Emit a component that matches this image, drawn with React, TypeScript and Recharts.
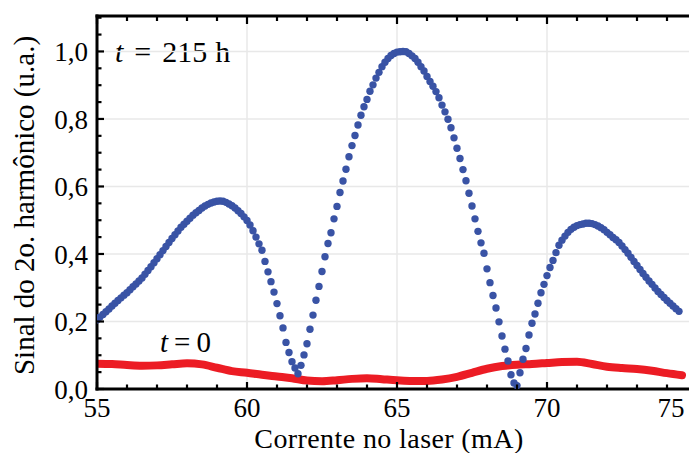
import React from 'react';
import { ComposedChart, Line, Scatter, XAxis, YAxis, ReferenceLine, Label } from 'recharts';

// blue dots: second-harmonic signal after 215 h, sampled every 0.1 mA from 55 mA
const blueStart = 55;
const blueStep = 0.1;
const blueSignal = [
  0.205, 0.213, 0.221, 0.229, 0.237, 0.246, 0.254, 0.262, 0.270, 0.278, // 55
  0.285, 0.294, 0.303, 0.311, 0.320, 0.329, 0.340, 0.351, 0.362, 0.374, // 56
  0.386, 0.398, 0.410, 0.422, 0.434, 0.446, 0.457, 0.468, 0.479, 0.488, // 57
  0.497, 0.506, 0.515, 0.522, 0.529, 0.536, 0.542, 0.547, 0.551, 0.554, // 58
  0.556, 0.557, 0.556, 0.553, 0.548, 0.543, 0.536, 0.528, 0.520, 0.510, // 59
  0.499, 0.486, 0.469, 0.450, 0.430, 0.411, 0.378, 0.347, 0.318, 0.287, // 60
  0.253, 0.217, 0.181, 0.138, 0.108, 0.081, 0.062, 0.045, 0.070, 0.101, // 61
  0.134, 0.177, 0.219, 0.263, 0.304, 0.348, 0.392, 0.431, 0.463, 0.504, // 62
  0.541, 0.582, 0.616, 0.651, 0.688, 0.721, 0.751, 0.782, 0.811, 0.836, // 63
  0.858, 0.882, 0.901, 0.921, 0.938, 0.955, 0.968, 0.979, 0.988, 0.994, // 64
  0.998, 0.999, 1.000, 0.999, 0.994, 0.987, 0.979, 0.968, 0.955, 0.942, // 65
  0.926, 0.911, 0.897, 0.881, 0.863, 0.841, 0.821, 0.799, 0.774, 0.744, // 66
  0.713, 0.683, 0.650, 0.617, 0.580, 0.542, 0.504, 0.467, 0.433, 0.402, // 67
  0.356, 0.315, 0.277, 0.240, 0.199, 0.157, 0.118, 0.083, 0.042, 0.018, // 68
  0.010, 0.048, 0.088, 0.120, 0.160, 0.195, 0.222, 0.254, 0.285, 0.310, // 69
  0.336, 0.360, 0.381, 0.404, 0.426, 0.441, 0.453, 0.464, 0.473, 0.479, // 70
  0.484, 0.487, 0.489, 0.491, 0.491, 0.490, 0.487, 0.483, 0.478, 0.472, // 71
  0.464, 0.457, 0.449, 0.442, 0.434, 0.424, 0.413, 0.402, 0.390, 0.378, // 72
  0.366, 0.354, 0.342, 0.331, 0.320, 0.310, 0.299, 0.289, 0.280, 0.271, // 73
  0.262, 0.254, 0.246, 0.238, 0.230, // 74
];

// red line: signal at t = 0
const redCurrent = [
  55, 55.5, 56, 56.5, 57, 57.5, 58, 58.5, 59, 59.5, 60, 60.5, 61, 61.5, 62, 62.5, 63, 63.5, 64, 64.5,
  65, 65.5, 66, 66.5, 67, 67.5, 68, 68.5, 69, 69.5, 70, 70.5, 71, 71.5, 72, 72.5, 73, 73.5, 74, 74.5,
];
const redSignal = [
  0.075, 0.074, 0.071, 0.069, 0.070, 0.073, 0.076, 0.073, 0.063, 0.053, 0.048, 0.042, 0.037, 0.032, 0.025, 0.023, 0.026, 0.030, 0.032, 0.029,
  0.026, 0.024, 0.024, 0.028, 0.036, 0.048, 0.060, 0.068, 0.072, 0.074, 0.077, 0.080, 0.081, 0.074, 0.066, 0.062, 0.059, 0.054, 0.047, 0.041,
];

const xTicks = [55, 56, 57, 58, 59, 60, 61, 62, 63, 64, 65, 66, 67, 68, 69, 70, 71, 72, 73, 74, 75];
const xMajor = [55, 60, 65, 70, 75];
const yTicks = [0, 0.05, 0.1, 0.15, 0.2, 0.25, 0.3, 0.35, 0.4, 0.45, 0.5, 0.55, 0.6, 0.65, 0.7, 0.75, 0.8, 0.85, 0.9, 0.95, 1.0, 1.05, 1.1];
const yMajor = [0, 0.2, 0.4, 0.6, 0.8, 1.0];

const FONT = '"Liberation Serif", "Times New Roman", serif';
const BLUE = '#3953a5';
const RED = '#ec1c24';
const GRID = '#e8e8e8';

const bluePoints = blueSignal.map((y, i) => ({ x: Math.round((blueStart + i * blueStep) * 10) / 10, y }));
const redPoints = redCurrent.map((x, i) => ({ x, y: redSignal[i] }));

const isMajor = (list: number[], v: number) => list.some(m => Math.abs(m - v) < 1e-6);

const BottomTick = (props: any) => {
  const { x, y, payload } = props;
  const major = isMajor(xMajor, payload.value);
  return (
    <g>
      <line x1={x} x2={x} y1={y} y2={y - (major ? 7 : 4.5)} stroke="#000" strokeWidth={2.2} />
      {major && (
        <text x={Math.min(x, 671)} y={y + 28} textAnchor="middle" style={{ fontFamily: FONT }} fontSize={27} fill="#000">
          {payload.value}
        </text>
      )}
    </g>
  );
};

const TopTick = (props: any) => {
  const { x, y, payload } = props;
  const major = isMajor(xMajor, payload.value);
  return <line x1={x} x2={x} y1={y} y2={y + (major ? 8 : 5)} stroke="#000" strokeWidth={2.2} />;
};

const LeftTick = (props: any) => {
  const { x, y, payload } = props;
  const major = isMajor(yMajor, payload.value);
  return (
    <g>
      <line x1={x} x2={x + (major ? 7 : 4.5)} y1={y} y2={y} stroke="#000" strokeWidth={2.2} />
      {major && (
        <text x={x - 9} y={y + 10} textAnchor="end" style={{ fontFamily: FONT }} fontSize={27} fill="#000">
          {payload.value.toFixed(1).replace('.', ',')}
        </text>
      )}
    </g>
  );
};

const XTitle = (props: any) => {
  const { viewBox } = props;
  return (
    <text
      x={viewBox.x + viewBox.width / 2 - 8}
      y={viewBox.y + 59}
      textAnchor="middle"
      style={{ fontFamily: FONT, letterSpacing: 0.4 }}
      fontSize={28}
      fill="#000"
    >
      Corrente no laser (mA)
    </text>
  );
};

const YTitle = (props: any) => {
  const { viewBox } = props;
  const cx = viewBox.x + 34;
  const cy = viewBox.y + viewBox.height / 2 + 3;
  return (
    <text x={cx} y={cy} transform={`rotate(-90 ${cx} ${cy})`} textAnchor="middle" style={{ fontFamily: FONT }} fontSize={29} fill="#000">
      Sinal do 2o. harmônico (u.a.)
    </text>
  );
};

const Dot = (props: any) => <circle cx={props.cx} cy={props.cy} r={3.7} fill={BLUE} />;

export default function App() {
  return (
    <div style={{ position: 'absolute', left: 0, top: 0, width: 689, height: 453, overflow: 'hidden', background: '#fff' }}>
      <ComposedChart width={700} height={453} margin={{ top: 0, right: 3, bottom: 0, left: 0 }}>
        <XAxis
          dataKey="x"
          type="number"
          domain={[55, 75]}
          allowDataOverflow
          ticks={xTicks}
          interval={0}
          height={64}
          tickSize={0}
          tickMargin={0}
          tickLine={false}
          tick={BottomTick}
          axisLine={{ stroke: '#000', strokeWidth: 3, strokeLinecap: 'square' }}
        >
          <Label content={XTitle} />
        </XAxis>
        <XAxis
          xAxisId="top"
          orientation="top"
          dataKey="x"
          type="number"
          domain={[55, 75]}
          allowDataOverflow
          ticks={xTicks}
          interval={0}
          height={16}
          tickSize={0}
          tickMargin={0}
          tickLine={false}
          tick={TopTick}
          axisLine={{ stroke: '#000', strokeWidth: 3, strokeLinecap: 'square' }}
        />
        <YAxis
          type="number"
          domain={[0, 1.105]}
          allowDataOverflow
          ticks={yTicks}
          interval={0}
          width={97}
          tickSize={0}
          tickMargin={0}
          tickLine={false}
          tick={LeftTick}
          axisLine={{ stroke: '#000', strokeWidth: 3, strokeLinecap: 'square' }}
        >
          <Label content={YTitle} />
        </YAxis>

        {[60, 65, 70].map(v => (
          <ReferenceLine key={`gx${v}`} x={v} stroke={GRID} strokeWidth={1.5} />
        ))}
        {yMajor.slice(1).map(v => (
          <ReferenceLine key={`gy${v}`} y={v} stroke={GRID} strokeWidth={1.5} />
        ))}

        <Line
          data={redPoints}
          dataKey="y"
          type="monotone"
          stroke={RED}
          strokeWidth={8}
          strokeLinecap="round"
          dot={false}
          isAnimationActive={false}
        />
        <Scatter data={bluePoints} dataKey="y" fill={BLUE} shape={Dot} isAnimationActive={false} />

        <text x={115} y={62} style={{ fontFamily: FONT }} fontSize={30} fill="#000">
          <tspan fontStyle="italic">t</tspan>
          <tspan dx={11}>=</tspan>
          <tspan dx={11}>215</tspan>
          <tspan dx={8}>h</tspan>
        </text>
        <text x={160} y={352} style={{ fontFamily: FONT }} fontSize={29} fill="#000">
          <tspan fontStyle="italic">t</tspan>
          <tspan dx={6}>=</tspan>
          <tspan dx={6}>0</tspan>
        </text>
      </ComposedChart>
    </div>
  );
}
